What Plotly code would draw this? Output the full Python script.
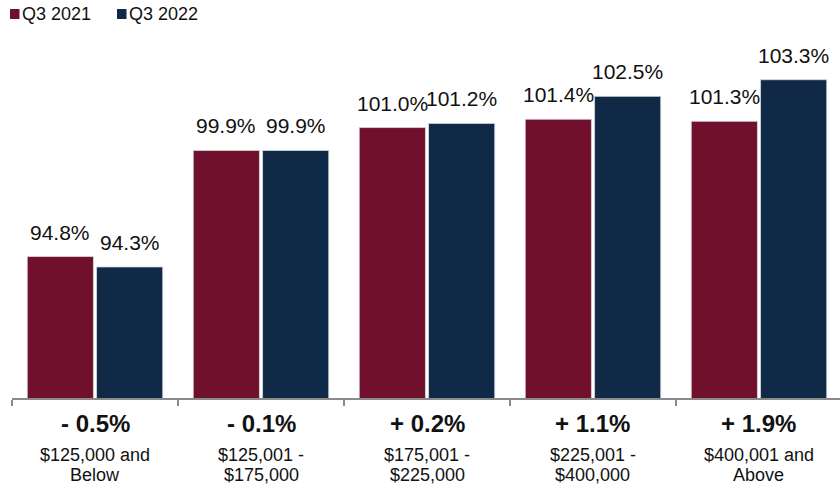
import plotly.graph_objects as go

# Price bands, year-over-year change and sale-to-list ratios
bands = ["$125,000 and<br>Below", "$125,001 -<br>$175,000", "$175,001 -<br>$225,000",
         "$225,001 -<br>$400,000", "$400,001 and<br>Above"]
changes = ["- 0.5%", "- 0.1%", "+ 0.2%", "+ 1.1%", "+ 1.9%"]
q3_2021 = [94.8, 99.9, 101.0, 101.4, 101.3]
q3_2022 = [94.3, 99.9, 101.2, 102.5, 103.3]
series_names = ["Q3 2021", "Q3 2022"]

RED = "#70102C"
NAVY = "#102946"
FONT = "Liberation Sans, Arial, Helvetica, sans-serif"
BARGAP = 0.165
GROUPGAP = 0.045

xs = list(range(len(bands)))

fig = go.Figure()
for name, vals, col in zip(series_names, [q3_2021, q3_2022], [RED, NAVY]):
    fig.add_trace(go.Bar(
        x=xs, y=vals, name=name, marker_color=col,
        marker_line=dict(color="rgba(215,218,225,1)", width=0.8),
        showlegend=False, hoverinfo="y",
    ))

ann = []
slot = (1 - BARGAP) / 2
for k, vals in enumerate([q3_2021, q3_2022]):
    for i, v in enumerate(vals):
        ann.append(dict(
            x=i + (k - 0.5) * slot, y=v, xref="x", yref="y",
            text=f"{v:.1f}%", showarrow=False, yanchor="bottom", yshift=11,
            font=dict(size=21, color="#111111", family=FONT),
        ))

for i, (chg, band) in enumerate(zip(changes, bands)):
    ann.append(dict(
        x=i, y=0, xref="x", yref="paper", text=f"<b>{chg}</b>",
        showarrow=False, yanchor="middle", yshift=-25,
        font=dict(size=24, color="#111111", family=FONT),
    ))
    for j, line in enumerate(band.split("<br>")):
        ann.append(dict(
            x=i, y=0, xref="x", yref="paper", text=line,
            showarrow=False, yanchor="middle", yshift=-57 - 20 * j,
            font=dict(size=18, color="#111111", family=FONT),
        ))

# Legend: coloured squares next to series names
shapes = []
for name, col, px in zip(series_names, [RED, NAVY], [-2, 105]):
    shapes.append(dict(
        type="rect", xref="paper", yref="paper",
        xsizemode="pixel", ysizemode="pixel", xanchor=0, yanchor=1,
        x0=px, x1=px + 9.5, y0=11, y1=21,
        fillcolor=col, line=dict(width=0),
    ))
    ann.append(dict(
        x=0, y=1, xref="paper", yref="paper", xanchor="left", yanchor="middle",
        xshift=px + 9.5, yshift=16,
        text=name, showarrow=False,
        font=dict(size=18, color="#111111", family=FONT),
    ))

fig.update_layout(
    width=840, height=488,
    margin=dict(l=12, r=0, t=30, b=90),
    paper_bgcolor="white", plot_bgcolor="white",
    barmode="group", bargap=BARGAP, bargroupgap=GROUPGAP,
    annotations=ann, shapes=shapes,
    xaxis=dict(
        range=[-0.5, 4.488], showgrid=False, zeroline=False,
        showline=True, linecolor="#8a8a8a", linewidth=2,
        tickmode="array", tickvals=[-0.5, 0.5, 1.5, 2.5, 3.5],
        ticks="outside", ticklen=6, tickwidth=2, tickcolor="#8a8a8a",
        showticklabels=False,
    ),
    yaxis=dict(range=[88, 105.69], visible=False),
    font=dict(family=FONT),
)

fig.write_html("out.html")
